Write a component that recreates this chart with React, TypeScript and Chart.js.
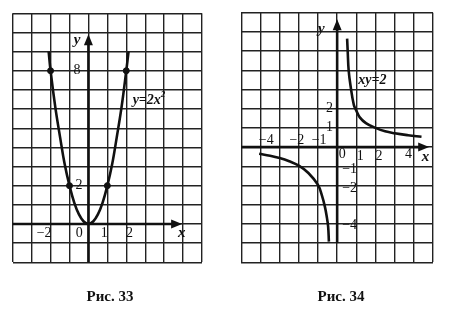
import React, { useEffect, useRef } from "react";
import { Chart, registerables } from "chart.js";

Chart.register(...registerables);

// ---- Fig. 33: y = 2x^2 ----
const parabolaX = [-2.1, -2, -1.75, -1.5, -1.25, -1, -0.75, -0.5, -0.25, 0, 0.25, 0.5, 0.75, 1, 1.25, 1.5, 1.75, 2, 2.12];
const parabolaY = [9, 8, 6.1, 4.55, 3.1, 2, 1.12, 0.5, 0.13, 0, 0.13, 0.5, 1.12, 2, 3.1, 4.55, 6.1, 8, 9];
const parabolaDotsX = [-2, -1, 1, 2];
const parabolaDotsY = [8, 2, 2, 8];

// ---- Fig. 34: xy = 2 ----
const hypRightX = [0.52, 0.55, 0.6, 0.7, 0.87, 1.0, 1.18, 1.5, 2, 2.5, 3, 3.7, 4.4];
const hypRightY = [5.65, 5.0, 4.0, 3.18, 2.2, 1.9, 1.55, 1.25, 1.0, 0.82, 0.72, 0.62, 0.54];
const hypLeftX = [-4.07, -3.5, -3, -2.5, -2, -1.5, -1, -0.8, -0.64, -0.53, -0.47, -0.43];
const hypLeftY = [-0.35, -0.45, -0.57, -0.74, -0.97, -1.35, -1.97, -2.5, -3.1, -3.7, -4.14, -4.92];

// tick / annotation labels: [text, x, y, italic]
const leftLabels: [string, number, number, boolean][] = [
  ["\u22122", -2.34, -0.47, false],
  ["0", -0.48, -0.47, false],
  ["1", 0.83, -0.47, false],
  ["2", 2.17, -0.47, false],
  ["x", 4.93, -0.5, true],
  ["8", -0.6, 8.0, false],
  ["2", -0.5, 2.0, false],
  ["y", -0.6, 9.6, true],
];
const rightLabels: [string, number, number, boolean][] = [
  ["\u22124", -3.7, 0.33, false],
  ["\u22122", -2.1, 0.33, false],
  ["\u22121", -0.94, 0.33, false],
  ["0", 0.26, -0.4, false],
  ["1", 1.2, -0.49, false],
  ["2", 2.18, -0.49, false],
  ["4", 3.72, -0.4, false],
  ["x", 4.61, -0.5, true],
  ["2", -0.4, 2.03, false],
  ["1", -0.4, 1.02, false],
  ["\u22121", 0.65, -1.18, false],
  ["\u22122", 0.65, -2.14, false],
  ["\u22124", 0.65, -4.1, false],
  ["y", -0.83, 6.15, true],
];

const pts = (xs: number[], ys: number[]) => xs.map((x, i) => ({ x, y: ys[i] }));

type PanelCfg = {
  xMin: number; xMax: number; yMin: number; yMax: number;
  padding: { left: number; right: number; top: number; bottom: number };
  datasets: any[];
  axes: { xFrom: number; xTo: number; yFrom: number; yTo: number };
  labels: [string, number, number, boolean][];
  formula: { parts: [string, boolean][]; x: number; y: number };
};

const numFont = "14px 'Liberation Serif', serif";
const itFont = "italic bold 15px 'Liberation Serif', serif";

function Panel({ cfg, left }: { cfg: PanelCfg; left: number }) {
  const ref = useRef<HTMLCanvasElement>(null);
  useEffect(() => {
    const ink = "#111";
    const axesPlugin = {
      id: "axesArrows",
      afterDatasetsDraw(chart: any) {
        const { ctx, scales } = chart;
        const xs = scales.x, ys = scales.y;
        const ox = xs.getPixelForValue(0), oy = ys.getPixelForValue(0);
        const x1 = xs.getPixelForValue(cfg.axes.xFrom), x2 = xs.getPixelForValue(cfg.axes.xTo);
        const y1 = ys.getPixelForValue(cfg.axes.yFrom), y2 = ys.getPixelForValue(cfg.axes.yTo);
        ctx.save();
        ctx.strokeStyle = ink; ctx.fillStyle = ink; ctx.lineWidth = 2.6;
        ctx.beginPath(); ctx.moveTo(x1, oy); ctx.lineTo(x2 - 6, oy); ctx.stroke();
        ctx.beginPath(); ctx.moveTo(ox, y1); ctx.lineTo(ox, y2 + 6); ctx.stroke();
        ctx.beginPath(); ctx.moveTo(x2, oy); ctx.lineTo(x2 - 11, oy - 4.5); ctx.lineTo(x2 - 11, oy + 4.5); ctx.closePath(); ctx.fill();
        ctx.beginPath(); ctx.moveTo(ox, y2); ctx.lineTo(ox - 4.5, y2 + 11); ctx.lineTo(ox + 4.5, y2 + 11); ctx.closePath(); ctx.fill();
        ctx.textAlign = "center"; ctx.textBaseline = "middle";
        for (const [t, lx, ly, it] of cfg.labels) {
          ctx.font = it ? itFont : numFont;
          ctx.fillText(t, xs.getPixelForValue(lx), ys.getPixelForValue(ly));
        }
        const f = cfg.formula;
        const big = "italic bold 14px 'Liberation Serif', serif";
        const small = "italic bold 9px 'Liberation Serif', serif";
        let total = 0;
        for (const [p, sup] of f.parts) {
          ctx.font = sup ? small : big;
          total += ctx.measureText(p).width;
        }
        let cx = xs.getPixelForValue(f.x) - total / 2;
        const cy = ys.getPixelForValue(f.y);
        ctx.textAlign = "left";
        for (const [p, sup] of f.parts) {
          ctx.font = sup ? small : big;
          ctx.fillText(p, cx, sup ? cy - 5 : cy);
          cx += ctx.measureText(p).width;
        }
        ctx.restore();
      },
    };
    const chart = new Chart(ref.current!, {
      type: "scatter",
      data: { datasets: cfg.datasets },
      options: {
        animation: false,
        responsive: false,
        layout: { padding: cfg.padding },
        plugins: { legend: { display: false }, tooltip: { enabled: false } },
        scales: {
          x: {
            type: "linear", min: cfg.xMin, max: cfg.xMax,
            ticks: { display: false, stepSize: 1 },
            grid: { color: "#222", lineWidth: 1.4, drawTicks: false },
            border: { display: false },
          },
          y: {
            type: "linear", min: cfg.yMin, max: cfg.yMax,
            ticks: { display: false, stepSize: 1 },
            grid: { color: "#222", lineWidth: 1.4, drawTicks: false },
            border: { display: false },
          },
        },
      },
      plugins: [axesPlugin],
    });
    return () => chart.destroy();
  }, [cfg]);
  return (
    <canvas
      ref={ref}
      width={233}
      height={313}
      style={{ position: "absolute", left, top: 0, width: 233, height: 313 }}
    />
  );
}

const curveStyle = {
  showLine: true, borderColor: "#111", borderWidth: 2.6, pointRadius: 0,
  tension: 0.4, fill: false,
};

const leftCfg: PanelCfg = {
  xMin: -4, xMax: 6, yMin: -2, yMax: 11,
  padding: { left: 12.7, right: 31, top: 13.3, bottom: 50.7 },
  datasets: [
    { ...curveStyle, data: pts(parabolaX, parabolaY) },
    { data: pts(parabolaDotsX, parabolaDotsY), pointRadius: 3, backgroundColor: "#111", borderColor: "#111", showLine: false },
  ],
  axes: { xFrom: -4, xTo: 4.95, yFrom: -2, yTo: 9.9 },
  labels: leftLabels,
  formula: { parts: [["y=2x", false], ["2", true]], x: 3.2, y: 6.47 },
};

const rightCfg: PanelCfg = {
  xMin: -5, xMax: 5, yMin: -6, yMax: 7,
  padding: { left: 8.3, right: 33, top: 12.7, bottom: 50.7 },
  datasets: [
    { ...curveStyle, data: pts(hypRightX, hypRightY) },
    { ...curveStyle, data: pts(hypLeftX, hypLeftY) },
  ],
  axes: { xFrom: -5, xTo: 4.8, yFrom: -5, yTo: 6.66 },
  labels: rightLabels,
  formula: { parts: [["xy=2", false]], x: 1.84, y: 3.45 },
};

const captionStyle: React.CSSProperties = {
  position: "absolute", top: 287, width: 120, textAlign: "center",
  fontFamily: "'Liberation Serif', serif", fontWeight: "bold", fontSize: 15, color: "#111",
  lineHeight: "18px",
};

export default function App() {
  return (
    <div style={{ position: "fixed", left: 0, top: 0, width: 466, height: 313, background: "#fff", overflow: "hidden" }}>
      <Panel cfg={leftCfg} left={0} />
      <Panel cfg={rightCfg} left={233} />
      <div style={{ ...captionStyle, left: 50 }}>Рис. 33</div>
      <div style={{ ...captionStyle, left: 281 }}>Рис. 34</div>
    </div>
  );
}
